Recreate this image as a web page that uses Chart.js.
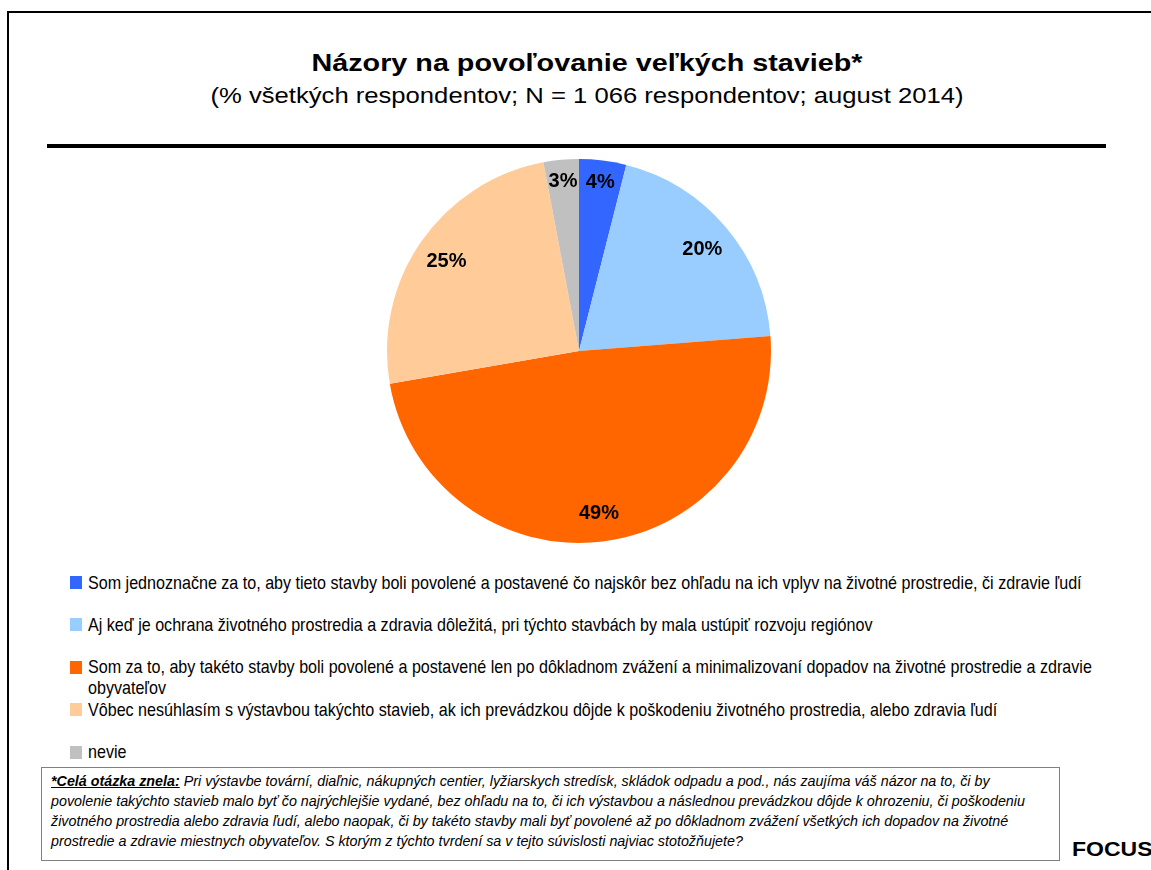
<!DOCTYPE html>
<html>
<head>
<meta charset="utf-8">
<script src="https://cdn.jsdelivr.net/npm/chart.js@4/dist/chart.umd.min.js"></script>
<style>
body { margin: 0; background: #fff; font-family: "Liberation Sans", Arial, sans-serif; color: #000; }
#page { position: relative; width: 1151px; height: 870px; overflow: hidden; }
#frame { position: absolute; left: 7px; top: 11px; width: 1200px; height: 900px; border-left: 2px solid #000; border-top: 2px solid #000; }
#title { position: absolute; left: 12px; width: 1150px; top: 52px; text-align: center; font-weight: bold; font-size: 23px; line-height: 23px; transform: scaleX(1.25); }
#subtitle { position: absolute; left: 12px; width: 1150px; top: 85px; text-align: center; font-size: 22px; line-height: 22px; transform: scaleX(1.165); }
#rule { position: absolute; left: 47px; top: 144px; width: 1059px; height: 4px; background: #000; }
#pieBox { position: absolute; left: 379px; top: 151px; width: 400px; height: 400px; }
.legItem { position: absolute; left: 88px; width: 1190px; font-size: 18.5px; line-height: 21px; transform: scaleX(0.87); transform-origin: 0 0; }
.legMark { position: absolute; left: 70px; width: 12px; height: 13px; }
#note { position: absolute; left: 41px; top: 767px; width: 1008px; height: 89px; border: 1px solid #808080; padding: 3px 0 0 9px; font-style: italic; font-size: 14.3px; line-height: 20px; }
#note b { text-decoration: underline; }
#focus { position: absolute; left: 1072px; top: 839px; font-weight: bold; font-size: 20px; line-height: 20px; transform: scaleX(1.15); transform-origin: 0 0; }
</style>
</head>
<body>
<div id="page">
  <div id="frame"></div>
  <div id="title">Názory na povoľovanie veľkých stavieb*</div>
  <div id="subtitle">(% všetkých respondentov; N = 1 066 respondentov; august 2014)</div>
  <div id="rule"></div>
  <div id="pieBox"><canvas id="chartjs-0"></canvas></div>
  <div id="legend"></div>
  <div id="note"><b>*Celá otázka znela:</b> Pri výstavbe tovární, diaľnic, nákupných centier, lyžiarskych stredísk, skládok odpadu a pod., nás zaujíma váš názor na to, či by<br>povolenie takýchto stavieb malo byť čo najrýchlejšie vydané, bez ohľadu na to, či ich výstavbou a následnou prevádzkou dôjde k ohrozeniu, či poškodeniu<br>životného prostredia alebo zdravia ľudí, alebo naopak, či by takéto stavby mali byť povolené až po dôkladnom zvážení všetkých ich dopadov na životné<br>prostredie a zdravie miestnych obyvateľov. S ktorým z týchto tvrdení sa v tejto súvislosti najviac stotožňujete?</div>
  <div id="focus">FOCUS</div>
</div>

<script>
"use strict";

// answers, in the order of the legend
var answers = [
    "Som jednoznačne za to, aby tieto stavby boli povolené a postavené čo najskôr bez ohľadu na ich vplyv na životné prostredie, či zdravie ľudí",
    "Aj keď je ochrana životného prostredia a zdravia dôležitá, pri týchto stavbách by mala ustúpiť rozvoju regiónov",
    "Som za to, aby takéto stavby boli povolené a postavené len po dôkladnom zvážení a minimalizovaní dopadov na životné prostredie a zdravie obyvateľov",
    "Vôbec nesúhlasím s výstavbou takýchto stavieb, ak ich prevádzkou dôjde k poškodeniu životného prostredia, alebo zdravia ľudí",
    "nevie"
];
var percents = [4, 20, 49, 25, 3];
var sliceColors = ["#3366FF", "#99CCFF", "#FF6600", "#FFCC99", "#C0C0C0"];

// draws the % labels inside the slices
var sliceLabels = {
    id: "sliceLabels",
    afterDatasetsDraw: function (chart) {
        var ctx = chart.ctx;
        var meta = chart.getDatasetMeta(0);
        var total = percents.reduce(function (a, b) { return a + b; }, 0);
        ctx.save();
        ctx.font = "bold 20px 'Liberation Sans', Arial, sans-serif";
        ctx.fillStyle = "#000";
        ctx.textAlign = "center";
        ctx.textBaseline = "middle";
        meta.data.forEach(function (arc, i) {
            var p = arc.getProps(["x", "y", "startAngle", "endAngle", "outerRadius"], true);
            var mid = (p.startAngle + p.endAngle) / 2;
            var r = p.outerRadius * (percents[i] / total < 0.06 ? 0.895 : 0.84);
            ctx.fillText(percents[i] + "%", p.x + Math.cos(mid) * r, p.y + Math.sin(mid) * r + 2);
        });
        ctx.restore();
    }
};

var ctx0 = document.getElementById("chartjs-0");
var myChart = new Chart(ctx0, {
    type: "pie",
    data: {
        labels: answers,
        datasets: [{
            data: percents,
            backgroundColor: sliceColors,
            borderWidth: 0
        }]
    },
    options: {
        responsive: true,
        maintainAspectRatio: false,
        animation: false,
        layout: { padding: 8 },
        plugins: {
            legend: { display: false },
            tooltip: { enabled: false }
        }
    },
    plugins: [sliceLabels]
});

// legend built from the chart's own labels and colours
var legend = document.getElementById("legend");
var items = myChart.options.plugins.legend.labels.generateLabels(myChart);
items.forEach(function (item, i) {
    var centerY = 582 + i * 42.4;
    var mark = document.createElement("div");
    mark.className = "legMark";
    mark.style.top = (centerY - 6) + "px";
    mark.style.background = item.fillStyle;
    legend.appendChild(mark);

    var txt = document.createElement("div");
    txt.className = "legItem";
    txt.style.top = (centerY - 10.5) + "px";
    txt.textContent = item.text;
    legend.appendChild(txt);
});
</script>
</body>
</html>
